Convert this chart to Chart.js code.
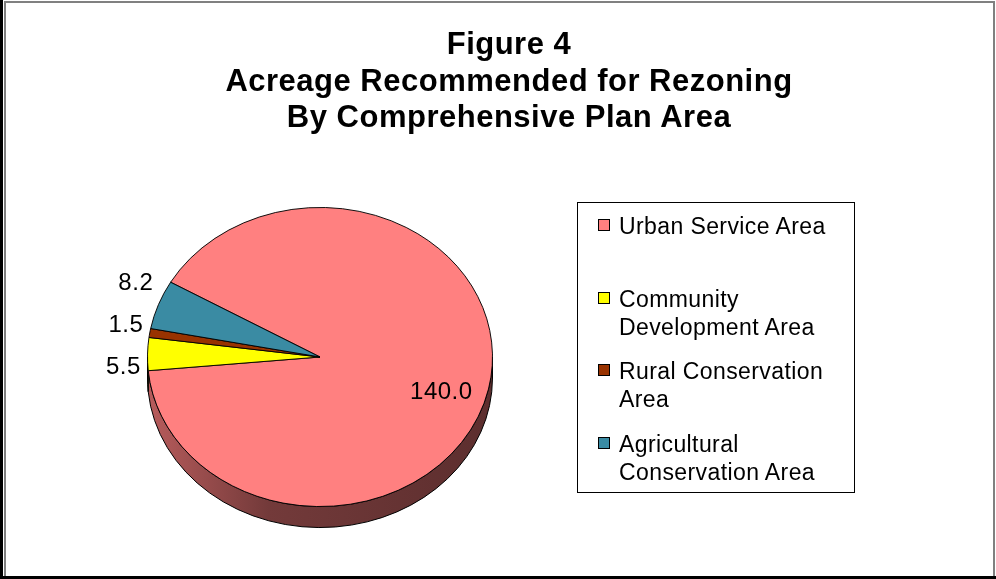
<!DOCTYPE html>
<html>
<head>
<meta charset="utf-8">
<script src="https://cdn.jsdelivr.net/npm/chart.js@4/dist/chart.umd.min.js"></script>
<style>
  html, body { margin: 0; padding: 0; background: #fff; }
  body { width: 996px; height: 579px; position: relative; overflow: hidden; font-family: "Liberation Sans", Arial, sans-serif; }
  #cv { position: absolute; left: 0; top: 0; }
  .bar { position: absolute; background: #000; }
  #frame { position: absolute; left: 4px; top: 1px; width: 987px; height: 575px; border: 2px solid #808080; border-bottom: none; box-sizing: content-box; }
  #title { position: absolute; left: 0; top: 26px; width: 1018px; text-align: center; font-weight: bold; font-size: 31px; line-height: 36.5px; letter-spacing: 0.5px; color: #000; }
  #legend { position: absolute; left: 577px; top: 202px; width: 276px; height: 289px; border: 1px solid #000; }
  .entry { position: absolute; left: 20px; width: 250px; font-size: 23px; line-height: 28px; letter-spacing: 0.4px; color: #000; }
  .sw { position: absolute; left: 0; top: 7px; width: 10px; height: 10px; border: 1.5px solid #000; }
  .txt { position: absolute; left: 21px; width: 235px; }
</style>
</head>
<body>
<canvas id="cv" width="996" height="579"></canvas>
<div id="frame"></div>
<div class="bar" style="left:0;top:0;width:3px;height:579px;"></div>
<div class="bar" style="left:0;top:576px;width:996px;height:3px;"></div>
<div id="title"></div>
<div id="legend"></div>
<script>
// ---- data ----
const titleLines = ['Figure 4', 'Acreage Recommended for Rezoning', 'By Comprehensive Plan Area'];
const categories = ['Urban Service Area', 'Community Development Area', 'Rural Conservation Area', 'Agricultural Conservation Area'];
const acreage = [140.0, 5.5, 1.5, 8.2];
const sliceColors = ['#FF8080', '#FFFF00', '#993300', '#3A8BA3'];

// ---- title & legend (DOM text) ----
document.getElementById('title').innerHTML = titleLines.map(t => '<div>' + t + '</div>').join('');
const legend = document.getElementById('legend');
categories.forEach((c, i) => {
  const e = document.createElement('div');
  e.className = 'entry';
  e.style.top = (9 + i * 72.7) + 'px';
  e.innerHTML = '<div class="sw" style="background:' + sliceColors[i] + '"></div><div class="txt">' + c + '</div>';
  legend.appendChild(e);
});

// ---- 3D tilt plugin ----
const TILT = 0.867;
const DEPTH = 21;
function shade(hex, f) {
  const n = parseInt(hex.slice(1), 16);
  const r = Math.round(((n >> 16) & 255) * f), g = Math.round(((n >> 8) & 255) * f), b = Math.round((n & 255) * f);
  return 'rgb(' + r + ',' + g + ',' + b + ')';
}
const pie3d = {
  id: 'pie3d',
  beforeDatasetsDraw(chart) {
    const ctx = chart.ctx;
    const arcs = chart.getDatasetMeta(0).data;
    const cx = arcs[0].x, cy = arcs[0].y, r = arcs[0].outerRadius;
    const ry = r * TILT;
    arcs.forEach((arc, i) => {
      const a0 = arc.startAngle, a1 = arc.endAngle;
      for (let n = -2; n <= 2; n++) {
        const s = Math.max(a0, 2 * Math.PI * n);
        const e = Math.min(a1, 2 * Math.PI * n + Math.PI);
        if (e <= s) continue;
        const g = ctx.createLinearGradient(cx - r, 0, cx + r, 0);
        g.addColorStop(0, shade(sliceColors[i], 0.72));
        g.addColorStop(0.35, shade(sliceColors[i], 0.45));
        g.addColorStop(1, shade(sliceColors[i], 0.36));
        ctx.save();
        ctx.beginPath();
        ctx.ellipse(cx, cy, r, ry, 0, s, e, false);
        ctx.ellipse(cx, cy + DEPTH, r, ry, 0, e, s, true);
        ctx.closePath();
        ctx.fillStyle = g;
        ctx.fill();
        ctx.lineWidth = 1;
        ctx.strokeStyle = '#000';
        ctx.stroke();
        ctx.restore();
      }
    });
    ctx.save();
    ctx.translate(0, cy);
    ctx.scale(1, TILT);
    ctx.translate(0, -cy);
  },
  afterDatasetsDraw(chart) {
    const ctx = chart.ctx;
    ctx.restore();
    const arcs = chart.getDatasetMeta(0).data;
    const cx = arcs[0].x, cy = arcs[0].y, r = arcs[0].outerRadius;
    const total = acreage.reduce((a, b) => a + b, 0);
    ctx.save();
    ctx.font = '24px "Liberation Sans", Arial, sans-serif';
    ctx.letterSpacing = '0.5px';
    ctx.fillStyle = '#000';
    ctx.textAlign = 'center';
    ctx.textBaseline = 'middle';
    const outside = [];
    arcs.forEach((arc, i) => {
      const mid = (arc.startAngle + arc.endAngle) / 2;
      const txt = acreage[i].toFixed(1);
      if (acreage[i] / total > 0.1) {
        const x = cx + 0.72 * r * Math.cos(mid);
        const y = cy + 0.72 * r * TILT * Math.sin(mid) + 12;
        ctx.fillText(txt, x, y);
      } else {
        outside.push({ txt, x: cx + 1.14 * r * Math.cos(mid), y: cy + 1.14 * r * TILT * Math.sin(mid) });
      }
    });
    outside.sort((a, b) => a.y - b.y);
    const mean = outside.reduce((a, o) => a + o.y, 0) / outside.length;
    const gap = 42;
    outside.forEach((o, j) => {
      const y = mean - 1 + (j - (outside.length - 1) / 2) * gap;
      ctx.fillText(o.txt, o.x, y);
    });
    ctx.restore();
  }
};

new Chart(document.getElementById('cv'), {
  type: 'pie',
  data: {
    labels: categories,
    datasets: [{
      data: acreage,
      backgroundColor: sliceColors,
      borderColor: '#000',
      borderWidth: 1,
      clip: false
    }]
  },
  options: {
    responsive: false,
    animation: false,
    events: [],
    rotation: -60,
    layout: { padding: { left: 147, right: 503, top: 184, bottom: 49 } },
    plugins: { legend: { display: false }, tooltip: { enabled: false }, title: { display: false } }
  },
  plugins: [pie3d]
});
</script>
</body>
</html>
